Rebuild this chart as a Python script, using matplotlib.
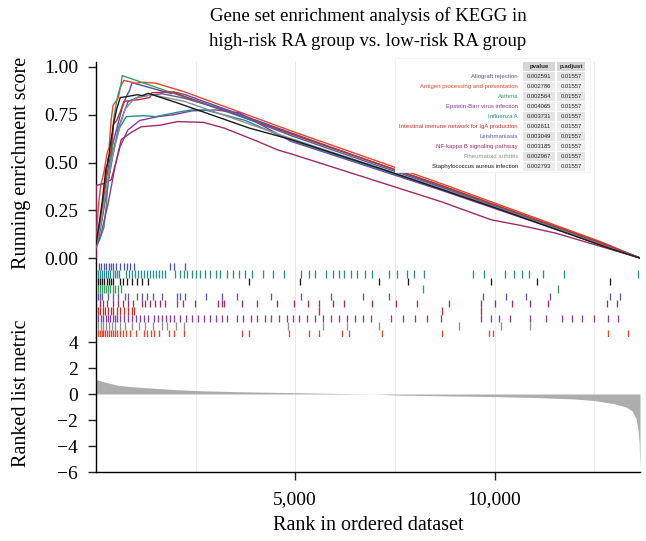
import matplotlib
matplotlib.use("Agg")
import matplotlib.pyplot as plt
from matplotlib.patches import Rectangle
from matplotlib.ticker import FuncFormatter

W, H = 646, 541
N_GENES = 13650

# ----- gene sets (legend / table order) -----
set_names = [
    "Allograft rejection",
    "Antigen processing and presentation",
    "Asthma",
    "Epstein-Barr virus infection",
    "Influenza A",
    "Intestinal immune network for IgA production",
    "Leishmaniasis",
    "NF-kappa B signaling pathway",
    "Rheumatoid arthritis",
    "Staphylococcus aureus infection",
]
set_colors = ["#4A55A6", "#E8442B", "#3C9B62", "#7E3F9E", "#2A8A8E",
              "#C62D2D", "#5C57AA", "#A02C63", "#8F8F8F", "#1A1A1A"]
pvalues = ["0.002591", "0.002786", "0.002564", "0.004065", "0.003731",
           "0.002611", "0.003049", "0.003185", "0.002967", "0.002793"]
padjust = ["0.01557"] * 10

# ----- running enrichment score (rank, ES) -----
es_rank = {
    "Allograft rejection": [1, 80, 150, 250, 350, 450, 550, 650, 750, 850, 900, 1900, 1950, 2240, 4900, 8660, 12670, 13650],
    "Antigen processing and presentation": [1, 60, 120, 200, 280, 330, 380, 430, 500, 560, 620, 700, 1000, 1200, 1500, 2220, 4900, 8660, 12670, 13650],
    "Asthma": [1, 100, 200, 260, 330, 400, 440, 500, 560, 620, 660, 4900, 8660, 12670, 13650],
    "Epstein-Barr virus infection": [1, 120, 300, 480, 600, 800, 1100, 1550, 1950, 2400, 3000, 3600, 4900, 8660, 12670, 13650],
    "Influenza A": [1, 110, 260, 420, 590, 760, 1200, 1500, 1740, 2100, 2400, 2740, 3750, 4900, 8660, 12670, 13600, 13650],
    "Intestinal immune network for IgA production": [1, 110, 230, 300, 370, 440, 520, 600, 700, 900, 1100, 1350, 1400, 1900, 4900, 8660, 12670, 13650],
    "Leishmaniasis": [1, 150, 310, 435, 560, 735, 810, 1040, 1290, 1660, 2240, 3170, 4900, 8660, 12900, 13650],
    "NF-kappa B signaling pathway": [1, 5, 200, 384, 500, 635, 900, 1137, 1600, 2050, 2700, 3220, 4060, 4570, 4900, 8660, 9920, 10670, 11540, 13650],
    "Rheumatoid arthritis": [1, 120, 250, 400, 610, 735, 900, 1070, 1240, 1440, 2220, 4900, 8660, 12670, 13650],
    "Staphylococcus aureus infection": [1, 60, 160, 250, 300, 380, 440, 520, 610, 780, 1040, 1160, 1310, 2000, 3850, 4900, 7110, 8660, 9920, 12900, 13650],
}
es_value = {
    "Allograft rejection": [0.07, 0.12, 0.25, 0.40, 0.52, 0.62, 0.70, 0.78, 0.84, 0.88, 0.918, 0.86, 0.87, 0.855, 0.655, 0.375, 0.075, 0.0],
    "Antigen processing and presentation": [0.08, 0.27, 0.38, 0.45, 0.55, 0.58, 0.72, 0.80, 0.82, 0.84, 0.90, 0.93, 0.915, 0.92, 0.915, 0.87, 0.665, 0.39, 0.085, 0.0],
    "Asthma": [0.06, 0.10, 0.16, 0.28, 0.46, 0.55, 0.72, 0.80, 0.86, 0.90, 0.955, 0.648, 0.38, 0.075, 0.0],
    "Epstein-Barr virus infection": [0.05, 0.12, 0.28, 0.48, 0.58, 0.67, 0.72, 0.74, 0.75, 0.77, 0.775, 0.76, 0.61, 0.355, 0.07, 0.0],
    "Influenza A": [0.06, 0.15, 0.35, 0.55, 0.68, 0.74, 0.745, 0.74, 0.75, 0.765, 0.775, 0.775, 0.72, 0.615, 0.36, 0.08, 0.005, 0.0],
    "Intestinal immune network for IgA production": [0.07, 0.20, 0.38, 0.52, 0.55, 0.70, 0.72, 0.76, 0.82, 0.825, 0.83, 0.84, 0.865, 0.87, 0.65, 0.38, 0.08, 0.0],
    "Leishmaniasis": [0.08, 0.20, 0.40, 0.55, 0.68, 0.78, 0.82, 0.84, 0.85, 0.86, 0.835, 0.78, 0.64, 0.37, 0.05, 0.0],
    "NF-kappa B signaling pathway": [0.0, 0.38, 0.39, 0.41, 0.50, 0.62, 0.66, 0.687, 0.695, 0.714, 0.71, 0.68, 0.61, 0.565, 0.545, 0.295, 0.20, 0.17, 0.13, 0.0],
    "Rheumatoid arthritis": [0.06, 0.18, 0.35, 0.52, 0.70, 0.78, 0.82, 0.845, 0.85, 0.853, 0.82, 0.625, 0.365, 0.07, 0.0],
    "Staphylococcus aureus infection": [0.07, 0.15, 0.30, 0.47, 0.50, 0.62, 0.70, 0.78, 0.84, 0.845, 0.855, 0.85, 0.862, 0.815, 0.68, 0.62, 0.47, 0.36, 0.27, 0.05, 0.0],
}

# ----- hit positions (rug), rows listed top to bottom -----
rug_order = [
    "Allograft rejection", "Influenza A", "Staphylococcus aureus infection",
    "Asthma", "Leishmaniasis", "NF-kappa B signaling pathway",
    "Intestinal immune network for IgA production",
    "Epstein-Barr virus infection", "Rheumatoid arthritis",
    "Antigen processing and presentation",
]
hits = {
    "Allograft rejection": [65, 133, 190, 250, 316, 384, 440, 500, 610, 695, 780, 860, 960, 1864, 1947, 2240],
    "Influenza A": [58, 110, 160, 210, 260, 310, 360, 420, 480, 540, 590, 760, 820, 900, 980, 1050, 1130, 1200,
                    1280, 1350, 1430, 1500, 1580, 1650, 1740, 1990, 2100, 2200, 2290, 2400, 2520, 2620, 2740,
                    2870, 3000, 3120, 3300, 3450, 3600, 3750, 3920, 4200, 4450, 4730, 5150, 5350, 5500, 5780,
                    5950, 6100, 6230, 6410, 6560, 6760, 6930, 7360, 7550, 7800, 7990, 8240, 9470, 9740, 10270,
                    10500, 10700, 10870, 11220, 11750, 13600],
    "Staphylococcus aureus infection": [60, 110, 160, 210, 270, 330, 380, 440, 610, 690, 780, 910, 1040, 1160,
                                        1310, 3850, 5130, 7110, 7840, 9920, 11060, 12900],
    "Asthma": [60, 100, 150, 200, 250, 300, 350, 420, 480, 560, 620, 8200, 11590],
    "Leishmaniasis": [60, 100, 150, 310, 435, 560, 735, 810, 1040, 1160, 1290, 1440, 1660, 2040, 2120, 2240,
                      2750, 3170, 3550, 4400, 5150, 5900, 6700, 7350, 9700, 10300, 10800, 11400, 12900, 13150],
    "NF-kappa B signaling pathway": [110, 185, 280, 435, 560, 685, 810, 935, 1160, 1240, 1360, 1490, 1610, 1740,
                                     2040, 2190, 2490, 3070, 3170, 3220, 3670, 4030, 4550, 4980, 5330, 5600,
                                     5950, 6230, 6930, 7530, 8060, 8860, 9650, 10000, 10450, 10880, 11330,
                                     12830, 13080],
    "Intestinal immune network for IgA production": [60, 110, 170, 230, 300, 370, 440, 520, 600, 700, 800, 900,
                                                     960, 5600, 8690, 9650],
    "Epstein-Barr virus infection": [60, 120, 180, 240, 300, 360, 420, 480, 540, 600, 700, 800, 900, 1000, 1100,
                                     1200, 1300, 1450, 1550, 1650, 1750, 1850, 1950, 2100, 2250, 2400, 2550,
                                     2700, 2850, 3000, 3150, 3300, 3550, 3700, 3900, 4050, 4250, 4400, 4600,
                                     4800, 4950, 5100, 5300, 5500, 5700, 5900, 6100, 6300, 6500, 6700, 6900,
                                     7400, 7700, 8000, 8300, 8650, 9650, 9900, 10100, 10400, 10900, 11300,
                                     11700, 11950, 12200, 12500, 12850, 13100],
    "Rheumatoid arthritis": [60, 120, 180, 250, 320, 400, 470, 610, 735, 900, 1070, 1240, 1440, 1660, 1790,
                             2000, 2220, 4810, 5700, 6300, 7110, 9120, 10170, 10880],
    "Antigen processing and presentation": [60, 100, 140, 180, 230, 280, 330, 380, 430, 480, 530, 600, 680, 760,
                                            860, 1000, 1210, 1290, 1380, 1460, 1590, 1840, 1970, 2220, 3670,
                                            3850, 4850, 5340, 5600, 6180, 6360, 7180, 8690, 9870, 9970, 12850,
                                            13360],
}

# ----- ranked list metric -----
metric_rank = [1, 30, 130, 300, 560, 900, 1390, 2000, 2640, 3500, 5000, 6500, 7000, 7500, 8500, 10000,
               11000, 12000, 12500, 13000, 13300, 13450, 13550, 13600, 13630, 13650]
metric_value = [1.3, 1.1, 1.0, 0.85, 0.67, 0.56, 0.46, 0.33, 0.25, 0.18, 0.1, 0.02, 0.0, -0.08, -0.13, -0.2,
                -0.27, -0.38, -0.5, -0.75, -1.0, -1.3, -1.9, -2.7, -3.8, -5.9]

SERIF = ["Liberation Serif", "DejaVu Serif"]
plt.rcParams["font.family"] = SERIF
GRID = "#EBEBEB"


def fx(px):
    return px / W


def fy(py):
    return 1 - py / H


fig = plt.figure(figsize=(W / 100, H / 100), dpi=100)
L, R = 96, 640
ax1 = fig.add_axes([fx(L), fy(263), fx(R) - fx(L), fy(62) - fy(263)])
ax2 = fig.add_axes([fx(L), fy(337), fx(R) - fx(L), fy(263) - fy(337)])
ax3 = fig.add_axes([fx(L), fy(472), fx(R) - fx(L), fy(337) - fy(472)])

grid_x = [2500, 5000, 7500, 10000, 12500]
for ax in (ax1, ax2, ax3):
    ax.set_xlim(1, N_GENES)
    for g in grid_x:
        ax.axvline(g, color=GRID, lw=0.7, zorder=0)
    for s in ("top", "right", "bottom"):
        ax.spines[s].set_visible(False)
    ax.spines["left"].set_linewidth(1.0)
    ax.tick_params(axis="x", bottom=False, labelbottom=False)
    ax.tick_params(axis="y", length=6, width=1.0, pad=7, labelsize=14, color="#222222")

# ----- top: running enrichment score -----
for name, col in zip(set_names, set_colors):
    ax1.plot(es_rank[name], es_value[name], color=col, lw=1.0, zorder=3)
ax1.set_ylim(-0.026, 1.026)
ax1.set_yticks([0, 0.25, 0.5, 0.75, 1.0])
ax1.yaxis.set_major_formatter(FuncFormatter(lambda v, p: f"{v:.2f}"))

# ----- middle: hit rug -----
nrow = len(rug_order)
for i, name in enumerate(rug_order):
    col = set_colors[set_names.index(name)]
    lo = nrow - 1 - i
    ax2.vlines(hits[name], lo, lo + 1, color=col, lw=0.95, zorder=3)
ax2.set_ylim(0, nrow)
ax2.set_yticks([])

# ----- bottom: ranked list metric -----
ax3.fill_between(metric_rank, 0, metric_value, color="#ADADAD", lw=0, zorder=2)
ax3.set_ylim(-6, 4.385)
ax3.set_yticks([-6, -4, -2, 0, 2, 4])
ax3.spines["bottom"].set_visible(True)
ax3.spines["bottom"].set_linewidth(1.0)
ax3.set_xticks([5000, 10000])
ax3.tick_params(axis="x", bottom=True, labelbottom=True, length=6, width=1.0,
                pad=8, labelsize=14, color="#222222")
ax3.xaxis.set_major_formatter(FuncFormatter(lambda v, p: f"{int(v):,}"))

# ----- labels -----
fig.text(fx(368), fy(16), "Gene set enrichment analysis of KEGG in",
         ha="center", va="center", fontsize=13.5)
fig.text(fx(368), fy(41), "high-risk RA group vs. low-risk RA group",
         ha="center", va="center", fontsize=13.5)
fig.text(fx(22), fy(163), "Running enrichment score", rotation=90,
         ha="center", va="center", fontsize=14.5)
fig.text(fx(22), fy(393), "Ranked list metric", rotation=90,
         ha="center", va="center", fontsize=14.5)
fig.text(fx(368), fy(525), "Rank in ordered dataset",
         ha="center", va="center", fontsize=14.5)

# ----- p-value table -----
SANS = ["Liberation Sans", "DejaVu Sans"]
fig.patches.append(Rectangle((fx(395), fy(172)), fx(590) - fx(395), fy(58) - fy(172),
                             transform=fig.transFigure, facecolor="white",
                             edgecolor="#F2F2F2", lw=0.6, zorder=5))
cols_x = [(523, 555), (557, 585)]
row_h = 9.0
y_head = 66.5
for (x0, x1), head in zip(cols_x, ["pvalue", "p.adjust"]):
    fig.patches.append(Rectangle((fx(x0), fy(y_head + row_h / 2)), fx(x1) - fx(x0), row_h / H,
                                 transform=fig.transFigure, facecolor="#D6D6D6",
                                 edgecolor="none", zorder=6))
    fig.text(fx((x0 + x1) / 2), fy(y_head), head, ha="center", va="center",
             fontsize=4.4, fontweight="bold", family=SANS, color="#222222", zorder=7)
for i, (name, col, pv, pa) in enumerate(zip(set_names, set_colors, pvalues, padjust)):
    yc = 76.5 + 10.05 * i
    shade = "#E4E4E4" if i % 2 == 0 else "#EDEDED"
    for (x0, x1), txt in zip(cols_x, [pv, pa]):
        fig.patches.append(Rectangle((fx(x0), fy(yc + row_h / 2)), fx(x1) - fx(x0), row_h / H,
                                     transform=fig.transFigure, facecolor=shade,
                                     edgecolor="none", zorder=6))
        fig.text(fx((x0 + x1) / 2), fy(yc), txt, ha="center", va="center",
                 fontsize=4.2, family=SANS, color="#222222", zorder=7)
    fig.text(fx(518), fy(yc), name, ha="right", va="center",
             fontsize=4.3, family=SANS, color=col, zorder=7)

fig.savefig("out.png", dpi=100)
